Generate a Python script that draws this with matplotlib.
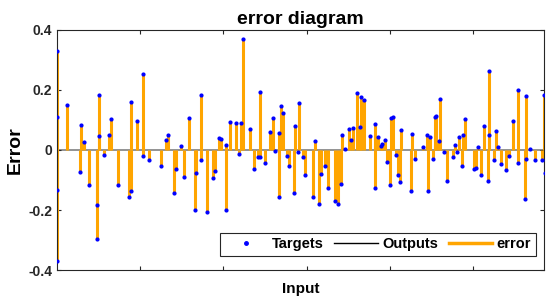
import matplotlib
matplotlib.use("Agg")
import matplotlib.pyplot as plt
from matplotlib.lines import Line2D

plt.rcParams['font.family'] = ['Liberation Sans', 'DejaVu Sans']
plt.rcParams['font.weight'] = 'bold'

# sample position (input index) and error value
inp = [0, 0, 0, 0, 2.4, 5.5, 5.8, 6.6, 7.7, 9.6, 9.7, 10.0, 10.2, 11.4, 12.4, 13.0,
       14.7, 17.4, 17.8, 17.8, 19.2, 20.6, 20.7, 22.0, 25.0, 26.1, 26.7, 28.2, 28.7,
       29.7, 30.5, 31.8, 33.1, 33.4, 34.5, 34.5, 36.0, 37.5, 37.9, 38.9, 39.4, 40.5,
       40.5, 41.5, 43.1, 43.8, 44.3, 44.7, 46.5, 47.3, 48.3, 48.8, 48.9, 49.9, 51.3,
       51.8, 52.5, 53.4, 53.4, 53.8, 54.4, 55.2, 55.8, 57.0, 57.1, 57.9, 58.1, 59.0,
       59.7, 61.5, 62.1, 63.0, 63.4, 64.4, 65.1, 66.8, 67.5, 68.3, 68.5, 69.2, 70.1,
       70.7, 71.1, 72.0, 72.8, 73.1, 73.7, 75.1, 76.4, 76.5, 77.1, 77.8, 78.2, 78.8,
       79.4, 80.1, 80.3, 80.7, 81.4, 82.0, 82.5, 82.7, 85.1, 85.4, 86.0, 88.0, 89.0,
       89.1, 89.6, 90.3, 90.8, 91.1, 91.9, 92.1, 93.1, 93.7, 95.1, 95.6, 96.1, 96.5,
       97.3, 97.5, 98.0, 100.2, 100.7, 101.2, 101.9, 102.5, 103.6, 103.7, 103.8,
       105.0, 105.4, 106.0, 106.7, 107.8, 108.6, 109.5, 110.7, 110.8, 112.5, 112.7,
       112.7, 113.6, 114.8, 116.5, 117.1, 117.2]
err = [0.328, 0.111, -0.133, -0.370, 0.149, -0.075, 0.083, 0.025, -0.116, -0.295,
       -0.182, 0.046, 0.182, -0.017, 0.048, 0.103, -0.116, -0.158, 0.158, -0.135,
       0.097, 0.251, -0.020, -0.033, -0.053, 0.032, 0.048, -0.143, -0.063, 0.014,
       -0.090, 0.107, -0.201, -0.077, 0.182, -0.033, -0.206, -0.094, -0.070, 0.038,
       0.035, 0.017, -0.199, 0.093, 0.090, -0.014, 0.088, 0.370, 0.069, -0.064,
       -0.024, -0.024, 0.192, -0.044, 0.059, 0.107, -0.003, 0.057, -0.157, 0.146,
       0.121, -0.019, -0.054, -0.144, 0.080, -0.008, 0.155, -0.022, -0.083, -0.158,
       0.030, -0.180, -0.081, -0.052, -0.127, -0.171, -0.180, -0.114, 0.050, 0.002,
       0.069, 0.032, 0.074, 0.188, 0.076, 0.176, 0.165, 0.046, -0.125, 0.086, 0.044,
       0.012, 0.019, 0.032, -0.041, -0.116, 0.107, 0.111, -0.018, -0.083, -0.106,
       0.065, -0.136, 0.052, -0.030, 0.010, 0.050, -0.138, 0.043, -0.030, 0.111,
       0.113, 0.028, 0.169, -0.008, -0.102, -0.022, 0.017, -0.008, 0.043, -0.055,
       0.050, 0.102, -0.065, -0.061, 0.009, -0.084, 0.080, -0.102, 0.048, 0.263,
       -0.035, 0.063, 0.011, -0.048, -0.067, -0.019, 0.097, 0.200, -0.045, -0.163,
       0.180, -0.030, 0.002, -0.035, -0.033, 0.184, -0.077]

fig = plt.figure(figsize=(5.5, 3.03), dpi=100)
ax = fig.add_axes([0.1036, 0.108, 0.886, 0.7945])

ax.axhline(0, color='#808080', lw=1.2, zorder=1)
ax.vlines(inp, 0, err, color='orange', lw=2.2, zorder=2)
ax.plot(inp, err, '.', color='blue', ms=4, zorder=3)

ax.set_xlim(0, 117.1)
ax.set_ylim(-0.4, 0.4)
ax.set_xticks([20, 40, 60, 80, 100])
ax.set_xticklabels([])
ax.set_yticks([-0.4, -0.2, 0, 0.2, 0.4])
ax.set_yticklabels(['-0.4', '-0.2', '0', '0.2', '0.4'])
ax.tick_params(direction='in', top=True, right=True, length=3, width=0.8,
               labelsize=10, colors='#262626')
for s in ax.spines.values():
    s.set_color('#262626')
    s.set_linewidth(0.8)

ax.set_title('error diagram', fontsize=14, fontweight='bold', pad=4)
ax.set_ylabel('Error', fontsize=14, fontweight='bold', labelpad=3)
ax.set_xlabel('Input', fontsize=11, fontweight='bold', labelpad=5)

handles = [
    Line2D([], [], ls='none', marker='.', color='blue', ms=5),
    Line2D([], [], color='black', lw=1),
    Line2D([], [], color='orange', lw=2.5),
]
leg = ax.legend(handles, ['Targets', 'Outputs', 'error'], ncol=3, loc='lower right',
                bbox_to_anchor=(0.997, 0.03), fontsize=10.5, frameon=True,
                fancybox=False, framealpha=1, edgecolor='#262626',
                handlelength=3.0, columnspacing=0.7, handletextpad=0.3,
                borderpad=0.3)
leg.get_frame().set_linewidth(0.8)

fig.savefig('out.png', dpi=100)
